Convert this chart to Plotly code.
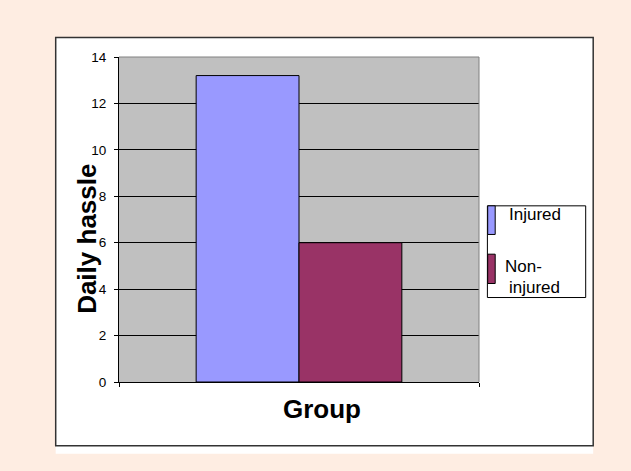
import plotly.graph_objects as go

# ---- data ----
groups = ["Injured", "Non-injured"]
legend_lines = [["Injured"], ["Non-", "injured"]]
values = [13.2, 6.0]
colors = ["#9999FF", "#993366"]
y_ticks = [0, 2, 4, 6, 8, 10, 12, 14]

W, H = 631, 471
L, R, T, B = 119.3, 479.3, 57.0, 381.7  # plot area in pixels


def px(x):
    return (x - L) / (R - L)


def py(y):
    return (B - y) / (B - T)


fig = go.Figure()
for name, v, c in zip(groups, values, colors):
    fig.add_trace(go.Bar(
        x=[""], y=[v], name=name, marker=dict(color=c, line=dict(color="black", width=1)),
        showlegend=False, hoverinfo="y+name"))

shapes = []
# outer white panel and its border
shapes.append(dict(type="rect", xref="paper", yref="paper", x0=px(56), x1=px(593.5), y0=py(453.5), y1=py(37.5),
                   fillcolor="white", line=dict(width=0), layer="below"))
shapes.append(dict(type="rect", xref="paper", yref="paper", x0=px(56), x1=px(593.5), y0=py(445.5), y1=py(37.5),
                   fillcolor="rgba(0,0,0,0)", line=dict(color="#333333", width=1.5), layer="below"))
# gray plot area
shapes.append(dict(type="rect", xref="paper", yref="paper", x0=0, x1=1, y0=0, y1=1,
                   fillcolor="#C0C0C0", line=dict(width=0), layer="below"))
# gray top/right border of plot area
shapes.append(dict(type="line", xref="paper", yref="paper", x0=0, x1=1, y0=1, y1=1,
                   line=dict(color="#808080", width=1), layer="above"))
shapes.append(dict(type="line", xref="paper", yref="paper", x0=1, x1=1, y0=0, y1=1,
                   line=dict(color="#808080", width=1), layer="above"))

# legend box
shapes.append(dict(type="rect", xref="paper", yref="paper", x0=px(487.7), x1=px(586), y0=py(297.3), y1=py(205.7),
                   fillcolor="white", line=dict(color="black", width=1), layer="above"))
sw_y = [(205.7, 234.3), (254, 283.3)]
for (ya, yb), c in zip(sw_y, colors):
    shapes.append(dict(type="rect", xref="paper", yref="paper", x0=px(488), x1=px(495.5), y0=py(yb), y1=py(ya),
                       fillcolor=c, line=dict(color="black", width=1), layer="above"))

FONT = "Liberation Sans, Arial"
annotations = [
    dict(text="<b>Daily hassle</b>", xref="paper", yref="paper", x=px(87), y=py(239), textangle=-90,
         showarrow=False, font=dict(family=FONT, size=26, color="black"),
         xanchor="center", yanchor="middle"),
    dict(text="<b>Group</b>", xref="paper", yref="paper", x=px(322), y=py(409),
         showarrow=False, font=dict(family=FONT, size=26, color="black"),
         xanchor="center", yanchor="middle"),
]
legend_pos = [[(508, 214)], [(504, 266), (508, 287)]]
for lines, poss in zip(legend_lines, legend_pos):
    for txt, (lx, ly) in zip(lines, poss):
        annotations.append(dict(text=txt, xref="paper", yref="paper", x=px(lx), y=py(ly), showarrow=False,
                                font=dict(family=FONT, size=17, color="black"), xanchor="left",
                                yanchor="middle", xshift=-1))

fig.update_layout(
    width=W, height=H,
    margin=dict(l=L, r=W - R, t=T, b=H - B, pad=0),
    paper_bgcolor="#FEEDE2",
    plot_bgcolor="rgba(0,0,0,0)",
    barmode="group",
    bargap=0.4286,
    bargroupgap=0,
    showlegend=False,
    shapes=shapes,
    annotations=annotations,
    font=dict(family=FONT, color="black"),
)
fig.update_xaxes(type="category", range=[-0.5, 0.5], showticklabels=False, ticks="outside", ticklen=4,
                 tickson="boundaries", tickcolor="black", showline=True, linecolor="black", linewidth=1,
                 showgrid=False, zeroline=False, fixedrange=True)
fig.update_yaxes(range=[0, 14], tickvals=y_ticks, ticktext=[str(t) for t in y_ticks], ticks="outside",
                 ticklen=4, tickcolor="black", showline=True, linecolor="black", linewidth=1,
                 showgrid=True, gridcolor="black", gridwidth=1, zeroline=False,
                 tickfont=dict(size=13.5, family=FONT, color="black"),
                 ticklabelstandoff=5, fixedrange=True)

fig.write_html("out.html", config={"displayModeBar": False},
               post_script="document.body.style.margin='0';document.body.style.overflow='hidden';")
